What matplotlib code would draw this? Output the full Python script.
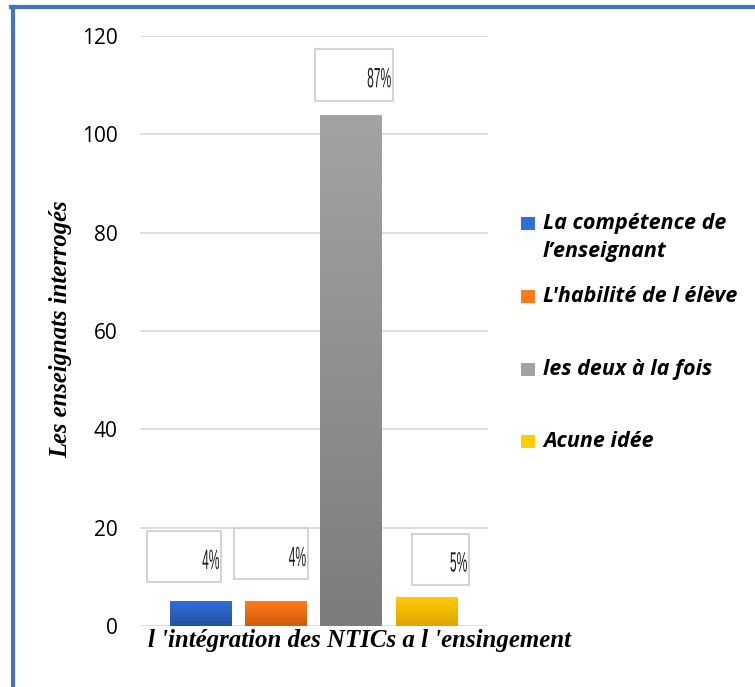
import numpy as np
import matplotlib
matplotlib.use("Agg")
import matplotlib.pyplot as plt
from matplotlib.patches import Rectangle, PathPatch
from matplotlib.lines import Line2D
from matplotlib.colors import LinearSegmentedColormap
from matplotlib.textpath import TextPath
from matplotlib.font_manager import FontProperties
from matplotlib.transforms import Affine2D

# Survey answers (number of teachers per answer)
categories = ["La compétence de\nl\u2019enseignant", "L'habilité de l élève",
              "les deux à la fois", "Acune idée"]
counts = [5, 5, 104, 6]
pct_labels = ["4%", "4%", "87%", "5%"]
y_ticks = [0, 20, 40, 60, 80, 100, 120]

# Bar fill: (top colour, bottom colour) of each vertical gradient
bar_gradients = [("#2f70d8", "#2450a0"), ("#ff7a18", "#d05c0c"),
                 ("#a3a3a3", "#7c7c7c"), ("#ffcd00", "#dea600")]
# Label box layout in pixels: (dx from bar centre, dy above bar top, width, height)
label_boxes = [(-17, 45, 74, 51), (-5.5, 48, 74, 51), (2.5, 40, 78, 52), (14, 37.5, 57, 51)]

W, H, DPI = 755, 687, 100
fig = plt.figure(figsize=(W / DPI, H / DPI), dpi=DPI)
ax = fig.add_axes([140 / W, 1 - 626 / H, 348 / W, 590 / H])

x = np.arange(len(counts))
bars = ax.bar(x, counts, width=0.82, color=[g[1] for g in bar_gradients], zorder=2)

# Vertical colour gradient inside each bar
for bar, (top, bottom) in zip(bars, bar_gradients):
    cmap = LinearSegmentedColormap.from_list("g", [bottom, top])
    bx, by = bar.get_x(), bar.get_y()
    bw, bh = bar.get_width(), bar.get_height()
    grad = np.linspace(0, 1, 256).reshape(-1, 1)
    im = ax.imshow(grad, cmap=cmap, origin="lower", aspect="auto",
                   extent=[bx, bx + bw, by, by + bh], zorder=3)
    im.set_clip_path(bar)
ax.set_xlim(-0.813, 3.82)
ax.set_ylim(0, 120)

ax.set_yticks(y_ticks)
ax.set_xticks([])
ax.grid(axis="y", color="#d9d9d9", linewidth=1.2, zorder=0)
ax.set_axisbelow(True)
for s in ax.spines.values():
    s.set_visible(False)
ax.tick_params(axis="y", length=0, pad=16, labelsize=15, labelcolor="#000000")
for lab in ax.get_yticklabels():
    lab.set_fontfamily("Open Sans")

# Percentage labels in white boxes above the bars (condensed lettering)
fig.canvas.draw()
narrow = FontProperties(family="Liberation Sans")
for xi, val, txt, (dx, dy, bw, bh) in zip(x, counts, pct_labels, label_boxes):
    px, py = ax.transData.transform((xi, val))
    cx, cy = px + dx, py + dy
    rect = Rectangle((cx - bw / 2, cy - bh / 2), bw, bh, transform=None,
                     facecolor="white", edgecolor="#d4d4d4", linewidth=1.5, zorder=5)
    fig.add_artist(rect)
    tp = TextPath((0, 0), txt, size=28, prop=narrow)
    ext = tp.get_extents()
    sx = 0.43
    tr = (Affine2D().translate(-ext.x1, -(ext.y0 + ext.y1) / 2)
          .scale(sx, 1).translate(cx + bw / 2 - 2, cy - 3))
    fig.add_artist(PathPatch(tr.transform_path(tp), transform=None,
                             facecolor="#1e1e1e", edgecolor="none", zorder=6))

# Axis titles
fig.text(61 / W, 1 - 329 / H, "Les enseignats interrogés", rotation=90,
         ha="center", va="center", fontsize=17.7, family="Liberation Serif",
         fontweight="bold", fontstyle="italic")
fig.text(148 / W, 1 - 641 / H, "l 'intégration des NTICs a l 'ensingement",
         ha="left", va="center", fontsize=17.9, family="Liberation Serif",
         fontweight="bold", fontstyle="italic")

# Legend
legend_base = [229, 302, 375, 447]
line_step = 28
for (top, bottom), lab, base in zip(bar_gradients, categories, legend_base):
    fig.add_artist(Rectangle((521 / W, 1 - (base + 1) / H), 14 / W, 13 / H,
                             transform=fig.transFigure, facecolor=top,
                             edgecolor="none"))
    for k, line in enumerate(lab.split("\n")):
        fig.text(543 / W, 1 - (base + k * line_step) / H, line, ha="left",
                 va="baseline", fontsize=15.5, family="Open Sans",
                 fontweight="bold", fontstyle="italic")

# Frame lines along the top and left edges
fig.add_artist(Line2D([11 / W, 1], [1 - 7 / H, 1 - 7 / H], color="#4472c4",
                      linewidth=3, transform=fig.transFigure))
fig.add_artist(Line2D([13 / W, 13 / W], [0, 1 - 7 / H], color="#4472c4",
                      linewidth=3, transform=fig.transFigure))

fig.savefig("out.png", dpi=DPI)
